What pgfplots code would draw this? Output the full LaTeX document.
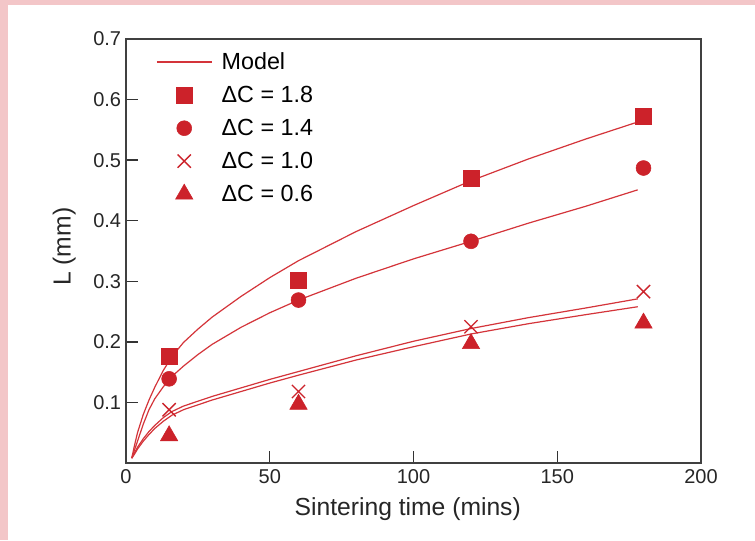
\documentclass[border=0pt]{standalone}
\usepackage{fontspec}
\setmainfont{Liberation Sans}
\usepackage{pgfplots}
\pgfplotsset{compat=1.18}
\definecolor{pinkbg}{RGB}{243,198,200}
\definecolor{dred}{RGB}{204,34,42}
\definecolor{lred}{RGB}{212,52,58}
\begin{document}
\begin{tikzpicture}
\useasboundingbox (0,0) rectangle (566.25pt,405pt);
\fill[pinkbg] (0,0) rectangle (566.25pt,405pt);
\fill[white] (6pt,0) rectangle (566.25pt,401.25pt);
\begin{axis}[
  at={(94.5pt,57.75pt)}, anchor=south west,
  scale only axis, width=431.25pt, height=318pt,
  xmin=0, xmax=200, ymin=0, ymax=0.7,
  xtick={0,50,100,150,200}, xticklabels={0,50,100,150,200},
  ytick={0.1,0.2,0.3,0.4,0.5,0.6,0.7}, yticklabels={0.1,0.2,0.3,0.4,0.5,0.6,0.7},
  tick align=inside, tick pos=left, major tick length=9pt,
  every tick/.style={black!80, line width=1.1pt},
  axis line style={black!75, line width=1.3pt},
  ticklabel style={font=\fontsize{15}{17}\selectfont, black!85},
  xticklabel style={inner sep=0pt, anchor=north, yshift=-5pt},
  yticklabel style={inner sep=0pt, anchor=east, xshift=-3.5pt},
  xlabel={Sintering time (mins)},
  ylabel={L (mm)},
  label style={font=\fontsize{18.5}{20}\selectfont, black!85, inner sep=0pt},
  xlabel style={at={(axis description cs:0.49,0)}, anchor=north, yshift=-26pt},
  ylabel style={at={(axis description cs:-0.087,0.51)}, anchor=south},
  legend style={draw=none, fill=none, at={(axis description cs:0.052,0.975)}, anchor=north west,
    font=\fontsize{17.5}{19}\selectfont, row sep=7pt, inner sep=0pt, cells={anchor=west},
    /tikz/every odd column/.append style={column sep=5pt}},
  legend image code/.code={\draw[mark repeat=2,mark phase=2,#1] plot coordinates {(0pt,0pt)(20.6pt,0pt)(41.2pt,0pt)};},
  clip=false,
]
% Model curves
\addplot[lred, line width=0.9pt] coordinates {
 (2,0.008)(3,0.03)(4,0.05)(6,0.08)(8,0.104)(10,0.125)(13,0.153)(16,0.176)(20,0.199)(25,0.221)(30,0.241)(40,0.275)(50,0.306)(60,0.334)(80,0.382)(100,0.425)(120,0.466)(140,0.502)(160,0.535)(178,0.563)};
\addlegendentry{Model}
\addplot[lred, line width=0.9pt, forget plot] coordinates {
 (2,0.008)(3,0.022)(4,0.036)(6,0.064)(8,0.088)(10,0.106)(13,0.126)(16,0.143)(20,0.16)(25,0.179)(30,0.196)(40,0.224)(50,0.248)(60,0.269)(80,0.305)(100,0.337)(120,0.366)(140,0.396)(160,0.424)(178,0.451)};
\addplot[lred, line width=0.9pt, forget plot] coordinates {
 (2,0.008)(3,0.017)(4,0.026)(6,0.04)(8,0.052)(10,0.062)(13,0.075)(16,0.085)(20,0.094)(30,0.110)(40,0.124)(50,0.138)(60,0.151)(80,0.177)(100,0.201)(120,0.222)(140,0.240)(160,0.256)(178,0.271)};
\addplot[lred, line width=0.9pt, forget plot] coordinates {
 (2,0.008)(3,0.015)(4,0.023)(6,0.036)(8,0.047)(10,0.057)(13,0.069)(16,0.079)(20,0.088)(30,0.104)(40,0.118)(50,0.132)(60,0.145)(80,0.170)(100,0.192)(120,0.213)(140,0.230)(160,0.245)(178,0.258)};
% Measurements
\addplot[only marks, mark=square*, mark size=6pt, dred] coordinates {(15,0.176)(60,0.302)(120,0.470)(180,0.573)};
\addlegendentry{ΔC = 1.8}
\addplot[only marks, mark=*, mark size=5.6pt, dred] coordinates {(15,0.139)(60,0.269)(120,0.366)(180,0.487)};
\addlegendentry{ΔC = 1.4}
\addplot[only marks, mark=x, mark size=7pt, dred, mark options={line width=1pt}] coordinates {(15,0.088)(60,0.118)(120,0.225)(180,0.283)};
\addlegendentry{ΔC = 1.0}
\addplot[only marks, mark=triangle*, mark size=7.5pt, dred] coordinates {(15,0.045)(60,0.097)(120,0.197)(180,0.231)};
\addlegendentry{ΔC = 0.6}
\end{axis}
\end{tikzpicture}
\end{document}
